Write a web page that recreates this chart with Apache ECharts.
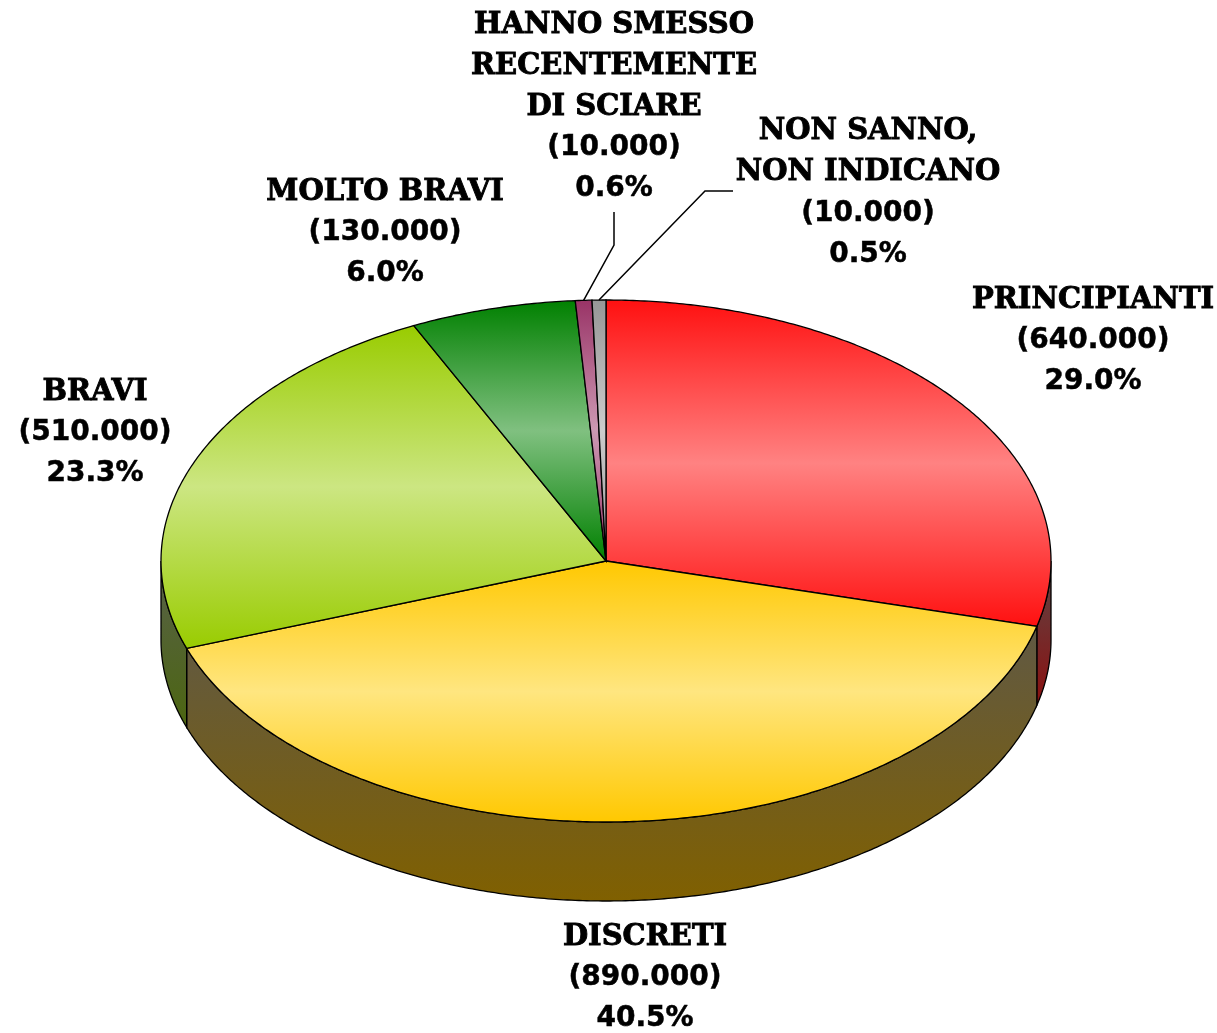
<!doctype html>
<html lang="it">
<head>
    <meta charset="utf-8">
    <title>Livello sciatori</title>
    <style>
        html, body {margin: 0; padding: 0; background: #fff;}
        #chart {width: 1217px; height: 1033px;}
    </style>
</head>
<body>
<div id="chart"></div>
<script src="https://cdn.jsdelivr.net/npm/echarts@6/dist/echarts.min.js"></script>
<script>
    // dati
    const categories = ['PRINCIPIANTI', 'DISCRETI', 'BRAVI', 'MOLTO BRAVI',
        'HANNO SMESSO\nRECENTEMENTE\nDI SCIARE', 'NON SANNO,\nNON INDICANO'];
    const counts = [640000, 890000, 510000, 130000, 10000, 10000];
    const shares = [29.0, 40.5, 23.3, 6.0, 0.6, 0.5];

    // colori: [bordo, centro] della faccia superiore, [alto, basso] del fianco
    const topColors = [['#ff1010', '#ff8282'], ['#ffc800', '#ffe680'], ['#99cc00', '#cce682'],
        ['#008000', '#80c080'], ['#993366', '#cc99b3'], ['#969696', '#cccccc']];
    const sideColors = [['#5c4646', '#8c1010'], ['#605944', '#806000'], ['#58604a', '#4c6610'],
        ['#2a4a2a', '#004000'], ['#4a2a3a', '#4c1a33'], ['#555', '#4b4b4b']];

    // layout della torta 3D
    const cx = 606, cy = 561, rx = 445, ry = 261, depth = 79;
    const labelAt = [[1093, 341], [645, 978], [95, 433], [385, 233], [614, 107], [868, 193]];
    const leaderElbow = [null, null, null, null, [[614, 212], [614, 245]], [[733, 191], [705, 191]]];

    const total = shares.reduce((a, b) => a + b, 0);
    const starts = [];
    let acc = 0;
    shares.forEach(s => { starts.push(acc / total * Math.PI * 2); acc += s; });
    const ends = starts.map((s, i) => s + shares[i] / total * Math.PI * 2);

    function pt(t, dy) {
        return [cx + rx * Math.sin(t), cy - ry * Math.cos(t) + (dy || 0)];
    }
    function arc(a, b, dy) {
        const n = Math.max(2, Math.ceil(Math.abs(b - a) / (Math.PI / 360)));
        const out = [];
        for (let k = 0; k <= n; k++) out.push(pt(a + (b - a) * k / n, dy));
        return out;
    }
    function grad(c) {
        return {type: 'linear', x: 0, y: 0, x2: 0, y2: 1, colorStops: c};
    }
    function fmt(n) {
        return String(n).replace(/\B(?=(\d{3})+(?!\d))/g, '.');
    }

    let chart = echarts.init(document.getElementById('chart'));
    chart.setOption({
        animation: false,
        series: [
            {
                type: 'custom',
                coordinateSystem: 'none',
                z: 1,
                data: shares,
                renderItem: function (params, api) {
                    const i = params.dataIndex;
                    api.value(0);
                    const a = Math.max(starts[i], Math.PI / 2);
                    const b = Math.min(ends[i], Math.PI * 1.5);
                    if (b <= a) return {type: 'group', children: []};
                    const pts = arc(a, b, 0).concat(arc(b, a, depth));
                    return {
                        type: 'polygon',
                        shape: {points: pts},
                        style: {
                            fill: grad([{offset: 0, color: sideColors[i][0]}, {offset: 1, color: sideColors[i][1]}]),
                            stroke: '#000',
                            lineWidth: 1.3
                        }
                    };
                }
            },
            {
                type: 'custom',
                coordinateSystem: 'none',
                z: 2,
                data: shares,
                renderItem: function (params, api) {
                    const i = params.dataIndex;
                    const share = api.value(0);
                    const pts = [[cx, cy]].concat(arc(starts[i], ends[i], 0));
                    const c = topColors[i];
                    const children = [{
                        type: 'polygon',
                        shape: {points: pts},
                        style: {
                            fill: grad([{offset: 0, color: c[0]}, {offset: 0.5, color: c[1]}, {offset: 1, color: c[0]}]),
                            stroke: '#000',
                            lineWidth: 1.3
                        }
                    }];
                    if (leaderElbow[i]) {
                        const mid = pt((starts[i] + ends[i]) / 2, 0);
                        children.push({
                            type: 'polyline',
                            shape: {points: leaderElbow[i].concat([mid])},
                            style: {stroke: '#000', lineWidth: 1.5, fill: null}
                        });
                    }
                    children.push({
                        type: 'text',
                        style: {
                            x: labelAt[i][0],
                            y: labelAt[i][1],
                            align: 'center',
                            verticalAlign: 'middle',
                            text: '{n|' + categories[i] + '}\n{v|(' + fmt(counts[i]) + ')}\n{v|' + share.toFixed(1) + '%}',
                            rich: {
                                n: {fontFamily: 'DejaVu Serif', fontWeight: 'bold', fontSize: 29, lineHeight: 41, fill: '#000',
                                    align: 'center', stroke: '#000', lineWidth: 0.9},
                                v: {fontFamily: 'DejaVu Sans', fontWeight: 'bold', fontSize: 28, lineHeight: 41, fill: '#000',
                                    align: 'center', stroke: '#000', lineWidth: 0.5}
                            }
                        }
                    });
                    return {type: 'group', children: children};
                }
            }
        ]
    });

    window.onresize = function () {
        chart.resize();
    };
</script>
</body>
</html>
